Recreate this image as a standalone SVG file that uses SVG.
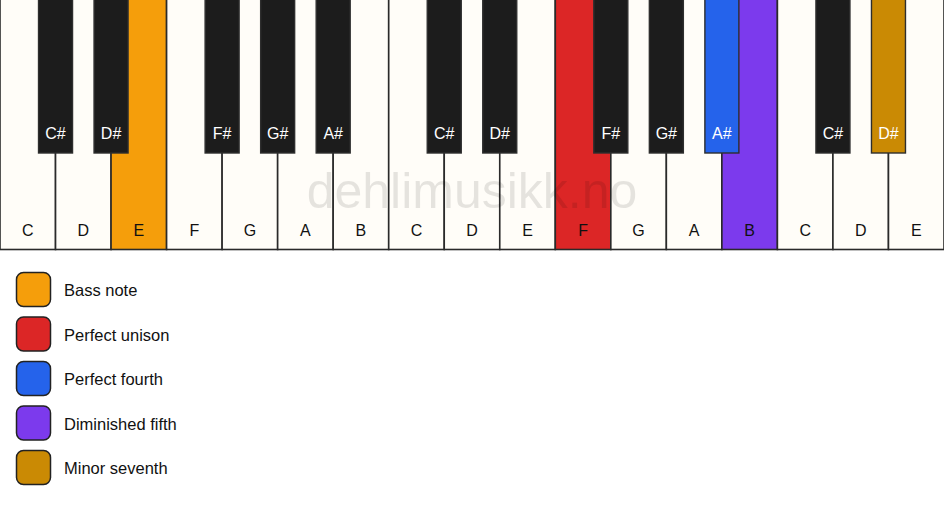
<svg xmlns="http://www.w3.org/2000/svg" width="944" height="506" viewBox="0 0 944 506">
<style>
.w{fill:#fffdf8;stroke:#2a2a2a;stroke-width:1.6}
.b{fill:#1c1c1c;stroke:#2e2e2e;stroke-width:1.4}
.t{font-family:"Liberation Sans",Arial,sans-serif;font-size:16px;text-anchor:middle}
.tw{fill:#111}
.tb{fill:#ffffff}
.lg{stroke:#222;stroke-width:1.5}
.lt{font-family:"Liberation Sans",Arial,sans-serif;font-size:16.5px;fill:#111}
.wm{font-family:"Liberation Sans",Arial,sans-serif;font-size:50px;fill:#000;fill-opacity:0.1;text-anchor:middle}
</style>
<rect x="0" y="0" width="944" height="506" fill="#ffffff"/>
<g id="white-keys">
<g id="w0"><rect class="w" x="0" y="-2" width="55.53" height="251.5"/><text class="t tw" x="27.76" y="236">C</text></g>
<g id="w1"><rect class="w" x="55.53" y="-2" width="55.53" height="251.5"/><text class="t tw" x="83.29" y="236">D</text></g>
<g id="w2"><rect class="w" x="111.06" y="-2" width="55.53" height="251.5" style="fill:#f59e0b"/><text class="t tw" x="138.82" y="236">E</text></g>
<g id="w3"><rect class="w" x="166.59" y="-2" width="55.53" height="251.5"/><text class="t tw" x="194.35" y="236">F</text></g>
<g id="w4"><rect class="w" x="222.12" y="-2" width="55.53" height="251.5"/><text class="t tw" x="249.88" y="236">G</text></g>
<g id="w5"><rect class="w" x="277.65" y="-2" width="55.53" height="251.5"/><text class="t tw" x="305.41" y="236">A</text></g>
<g id="w6"><rect class="w" x="333.18" y="-2" width="55.53" height="251.5"/><text class="t tw" x="360.94" y="236">B</text></g>
<g id="w7"><rect class="w" x="388.71" y="-2" width="55.53" height="251.5"/><text class="t tw" x="416.47" y="236">C</text></g>
<g id="w8"><rect class="w" x="444.24" y="-2" width="55.53" height="251.5"/><text class="t tw" x="472" y="236">D</text></g>
<g id="w9"><rect class="w" x="499.76" y="-2" width="55.53" height="251.5"/><text class="t tw" x="527.53" y="236">E</text></g>
<g id="w10"><rect class="w" x="555.29" y="-2" width="55.53" height="251.5" style="fill:#dc2626"/><text class="t tw" x="583.06" y="236">F</text></g>
<g id="w11"><rect class="w" x="610.82" y="-2" width="55.53" height="251.5"/><text class="t tw" x="638.59" y="236">G</text></g>
<g id="w12"><rect class="w" x="666.35" y="-2" width="55.53" height="251.5"/><text class="t tw" x="694.12" y="236">A</text></g>
<g id="w13"><rect class="w" x="721.88" y="-2" width="55.53" height="251.5" style="fill:#7c3aed"/><text class="t tw" x="749.65" y="236">B</text></g>
<g id="w14"><rect class="w" x="777.41" y="-2" width="55.53" height="251.5"/><text class="t tw" x="805.18" y="236">C</text></g>
<g id="w15"><rect class="w" x="832.94" y="-2" width="55.53" height="251.5"/><text class="t tw" x="860.71" y="236">D</text></g>
<g id="w16"><rect class="w" x="888.47" y="-2" width="55.53" height="251.5"/><text class="t tw" x="916.24" y="236">E</text></g>
</g>
<text class="wm" x="472" y="208">dehlimusikk.no</text>
<g id="black-keys">
<g id="b1"><rect class="b" x="38.53" y="-2" width="34" height="155"/><text class="t tb" x="55.53" y="139">C#</text></g>
<g id="b2"><rect class="b" x="94.06" y="-2" width="34" height="155"/><text class="t tb" x="111.06" y="139">D#</text></g>
<g id="b4"><rect class="b" x="205.12" y="-2" width="34" height="155"/><text class="t tb" x="222.12" y="139">F#</text></g>
<g id="b5"><rect class="b" x="260.65" y="-2" width="34" height="155"/><text class="t tb" x="277.65" y="139">G#</text></g>
<g id="b6"><rect class="b" x="316.18" y="-2" width="34" height="155"/><text class="t tb" x="333.18" y="139">A#</text></g>
<g id="b8"><rect class="b" x="427.24" y="-2" width="34" height="155"/><text class="t tb" x="444.24" y="139">C#</text></g>
<g id="b9"><rect class="b" x="482.76" y="-2" width="34" height="155"/><text class="t tb" x="499.76" y="139">D#</text></g>
<g id="b11"><rect class="b" x="593.82" y="-2" width="34" height="155"/><text class="t tb" x="610.82" y="139">F#</text></g>
<g id="b12"><rect class="b" x="649.35" y="-2" width="34" height="155"/><text class="t tb" x="666.35" y="139">G#</text></g>
<g id="b13"><rect class="b" x="704.88" y="-2" width="34" height="155" style="fill:#2563eb"/><text class="t tb" x="721.88" y="139">A#</text></g>
<g id="b15"><rect class="b" x="815.94" y="-2" width="34" height="155"/><text class="t tb" x="832.94" y="139">C#</text></g>
<g id="b16"><rect class="b" x="871.47" y="-2" width="34" height="155" style="fill:#ca8a04"/><text class="t tb" x="888.47" y="139">D#</text></g>
</g>
<g id="legend">
<g id="lg-bass"><rect class="lg" x="16.5" y="272.5" width="34" height="34" rx="7" fill="#f59e0b"/><text class="lt" x="64" y="296">Bass note</text></g>
<g id="lg-unison"><rect class="lg" x="16.5" y="317" width="34" height="34" rx="7" fill="#dc2626"/><text class="lt" x="64" y="340.5">Perfect unison</text></g>
<g id="lg-fourth"><rect class="lg" x="16.5" y="361.5" width="34" height="34" rx="7" fill="#2563eb"/><text class="lt" x="64" y="385">Perfect fourth</text></g>
<g id="lg-fifth"><rect class="lg" x="16.5" y="406" width="34" height="34" rx="7" fill="#7c3aed"/><text class="lt" x="64" y="429.5">Diminished fifth</text></g>
<g id="lg-seventh"><rect class="lg" x="16.5" y="450.5" width="34" height="34" rx="7" fill="#ca8a04"/><text class="lt" x="64" y="474">Minor seventh</text></g>
</g>
<g id="connectors"></g>
</svg>
